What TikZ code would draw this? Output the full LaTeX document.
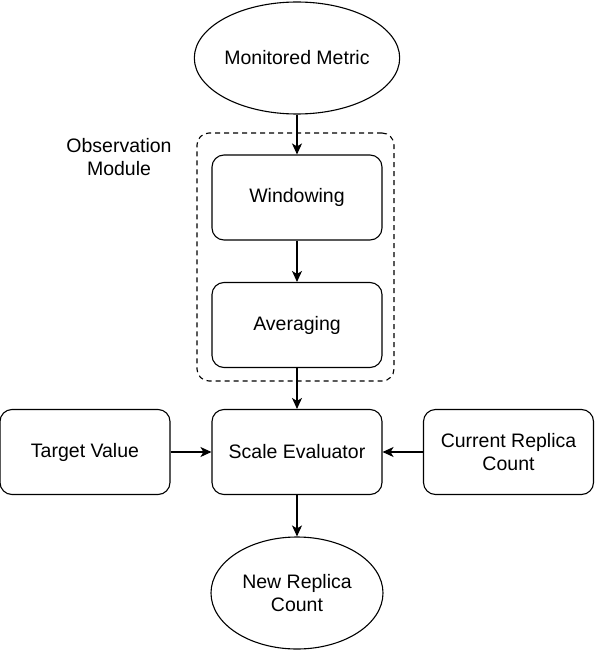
\documentclass[tikz,border=0pt]{standalone}
\usepackage{fontspec}
\setmainfont{Liberation Sans}
\usetikzlibrary{shapes.geometric,arrows.meta}

\begin{document}
\begin{tikzpicture}[x=1pt,y=-1pt,line width=1.1pt,
  font=\fontsize{19.5}{22.5}\selectfont,
  ellip/.style={draw,ellipse,minimum width=172pt,minimum height=112pt,inner sep=0pt,align=center},
  stagebox/.style={draw,rounded corners=12pt,minimum width=170pt,minimum height=85pt,align=center},
  groupbox/.style={draw,dash pattern=on 5pt off 4pt,rounded corners=12pt,minimum width=197pt,minimum height=248pt},
  flow/.style={-{Stealth[length=11pt,width=10pt,inset=3pt]}}]
  \useasboundingbox (0,0) rectangle (594,650);

  \node[groupbox] (obs) at (295.5,257) {};
  \node[align=center] (obslabel) at (119,157) {Observation\\Module};

  \node[ellip] (metric) at (297,58) {Monitored Metric};
  \node[stagebox] (window) at (297,197.5) {Windowing};
  \node[stagebox] (avg) at (297,325) {Averaging};
  \node[stagebox] (eval) at (297,452) {Scale Evaluator};
  \node[stagebox] (target) at (85,452) {Target Value};
  \node[stagebox] (current) at (508.5,452) {Current Replica\\Count};
  \node[ellip] (newcount) at (297,593) {New Replica\\Count};

  \draw[flow] (metric) -- (window);
  \draw[flow] (window) -- (avg);
  \draw[flow] (avg) -- (eval);
  \draw[flow] (target) -- (eval);
  \draw[flow] (current) -- (eval);
  \draw[flow] (eval) -- (newcount);
\end{tikzpicture}
\end{document}
